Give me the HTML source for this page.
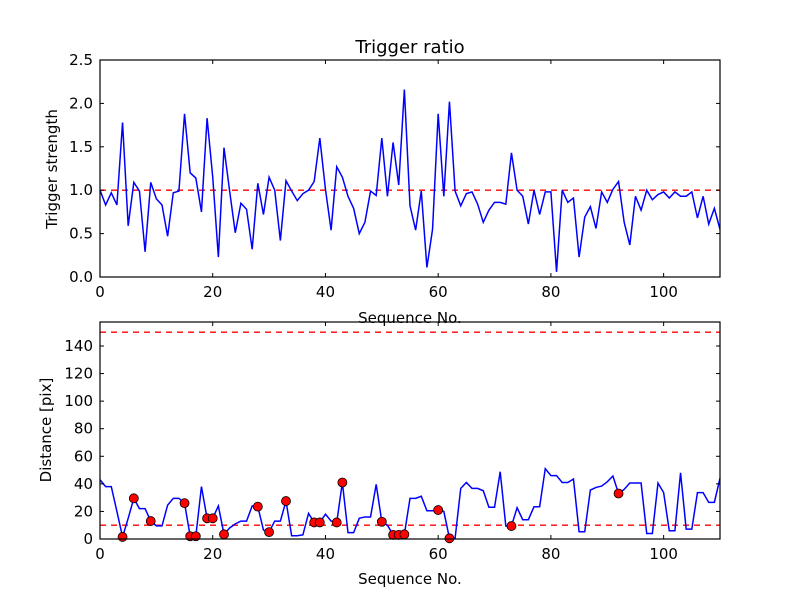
<!DOCTYPE html>
<html><head><meta charset="utf-8"><style>
html,body{margin:0;padding:0;background:#fff}
svg{display:block;font-family:"DejaVu Sans","Liberation Sans",sans-serif}
</style></head><body>
<svg id="fig" width="800" height="600" viewBox="0 0 800 600"></svg>
<script>
const ratioValues=[1.0,0.83,0.97,0.83,1.78,0.59,1.09,0.99,0.29,1.09,0.90,0.83,0.47,0.97,0.99,1.88,1.20,1.14,0.75,1.83,1.15,0.23,1.49,0.99,0.51,0.85,0.78,0.32,1.08,0.72,1.15,1.0,0.42,1.11,0.99,0.88,0.96,1.0,1.10,1.60,1.01,0.54,1.27,1.15,0.93,0.79,0.50,0.63,0.99,0.94,1.60,0.93,1.55,1.06,2.16,0.82,0.54,0.99,0.11,0.55,1.88,0.93,2.02,0.99,0.82,0.96,0.98,0.84,0.63,0.77,0.86,0.86,0.84,1.43,1.0,0.93,0.61,1.0,0.72,0.98,0.98,0.06,1.0,0.86,0.91,0.23,0.69,0.81,0.56,0.98,0.86,1.01,1.10,0.63,0.37,0.93,0.77,1.0,0.89,0.95,0.98,0.91,0.98,0.93,0.93,0.98,0.68,0.93,0.61,0.79,0.55];
const distValues=[43,38,38,20,1.5,15,29.5,22,22,13,9.5,9.5,24.6,29.5,29.5,26,2,2,38,15,15,24,3.4,8,11,13,13,24,23.5,6.5,5,13,13,27.5,2.4,2.4,3,18.6,12,12,18,13,12,41,4.6,4.6,15,16,16,39.6,12.5,10,3,3,3.4,29.5,29.5,31,20.5,20.5,21,20,0.5,0.5,36.7,41,36.7,36.7,35,23,23,48.8,9.4,9.4,22.7,14,14,23.4,23.4,51,46,46,41,41,43.5,5.3,5.3,35.5,37.4,38.4,41.5,45.7,33,36,40.6,40.6,40.6,4,4,40.6,33.6,6,6,48,7.2,7.2,33.6,33.6,26.6,26.6,44];
const markerIdx=[4,6,9,15,16,17,19,20,22,28,30,33,38,39,42,43,50,52,53,54,60,62,73,92];
const topYTicks=[0,0.5,1.0,1.5,2.0,2.5];
const topYLabels=["0.0","0.5","1.0","1.5","2.0","2.5"];
const botYTicks=[0,20,40,60,80,100,120,140];
const xTicks=[0,20,40,60,80,100];
const ratioThreshold=1.0, distLow=10, distHigh=150;

const NS="http://www.w3.org/2000/svg";
const svg=document.getElementById('fig');
function mk(tag,attrs,parent){const e=document.createElementNS(NS,tag);for(const k in attrs)e.setAttribute(k,attrs[k]);(parent||svg).appendChild(e);return e;}
const X0=100,X1=720;
function xs(v){return X0+(v/110)*(X1-X0);}
function axes(top,bot,ymax,yTicks,yLabels,name){
  const ys=v=>bot-(v/ymax)*(bot-top);
  const g=mk('g',{});
  
  
  return {g,ys,top,bot,yTicks,yLabels};
}
function frame(a){
  const {g,ys,top,bot,yTicks,yLabels}=a;
  const r=mk('rect',{x:X0,y:top,width:X1-X0,height:bot-top,fill:'none',stroke:'#000','stroke-width':1.2},g);
  
  
  xTicks.forEach(t=>{const x=xs(t);
    mk('line',{x1:x,x2:x,y1:bot,y2:bot-4,stroke:'#000'},g);
    mk('line',{x1:x,x2:x,y1:top,y2:top+4,stroke:'#000'},g);
    const tx=mk('text',{x:x,y:bot+20,'text-anchor':'middle','font-size':15},g);tx.textContent=t;
    
    
  });
  yTicks.forEach((t,i)=>{const y=ys(t);
    mk('line',{x1:X0,x2:X0+4,y1:y,y2:y,stroke:'#000'},g);
    mk('line',{x1:X1,x2:X1-4,y1:y,y2:y,stroke:'#000'},g);
    const tx=mk('text',{x:93,y:y+5,'text-anchor':'end','font-size':15},g);tx.textContent=yLabels[i];
    
    
  });
}
function hline(a,v,name){const y=a.ys(v);const l=mk('line',{x1:X0,x2:X1,y1:y,y2:y,stroke:'#f00','stroke-dasharray':'6,5','stroke-width':1.4},a.g);
  
  }
function series(a,vals,name){const p=mk('polyline',{points:vals.map((v,i)=>xs(i)+','+a.ys(v)).join(' '),fill:'none',stroke:'#00f','stroke-width':1.5},a.g);
  
  }

const A=axes(60,277,2.5,topYTicks,topYLabels,'trigger-ratio-plot');
hline(A,ratioThreshold,'threshold-line');
series(A,ratioValues,'trigger-strength-line');
frame(A);
const B=axes(322,539,157.4,botYTicks,botYTicks.map(String),'distance-plot');
hline(B,distLow,'distance-low-line');
hline(B,distHigh,'distance-high-line');
series(B,distValues,'distance-line');
markerIdx.forEach(i=>{const c=mk('circle',{cx:xs(i),cy:B.ys(distValues[i]),r:4.5,fill:'#f00',stroke:'#000','stroke-width':0.8},B.g);
  
  });
frame(B);

function txt(s,attrs,name){const t=mk('text',attrs);t.textContent=s;
  
  }
txt('Trigger ratio',{x:410,y:53,'text-anchor':'middle','font-size':18},'top-title');
txt('Sequence No.',{x:410,y:323,'text-anchor':'middle','font-size':15},'top-x-axis-title');
txt('Sequence No.',{x:410,y:584,'text-anchor':'middle','font-size':15},'bottom-x-axis-title');
txt('Trigger strength',{x:0,y:0,'text-anchor':'middle','font-size':15,transform:'translate(57,169) rotate(-90)'},'top-y-axis-title');
txt('Distance [pix]',{x:0,y:0,'text-anchor':'middle','font-size':15,transform:'translate(51,430) rotate(-90)'},'bottom-y-axis-title');
</script>
</body></html>
